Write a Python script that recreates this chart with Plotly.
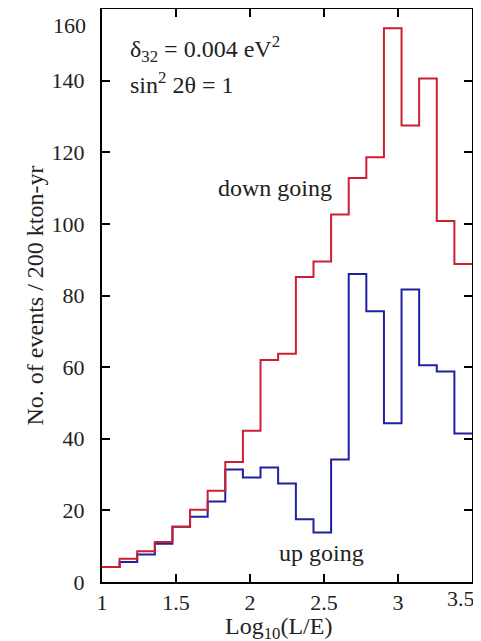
import plotly.graph_objects as go

# Bin edges of Log10(L/E) (21 bins from 1 to 3.5)
bin_edges = [1.0, 1.119, 1.238, 1.357, 1.476, 1.595, 1.714, 1.833, 1.952, 2.071,
             2.190, 2.310, 2.429, 2.548, 2.667, 2.786, 2.905, 3.024, 3.143, 3.262,
             3.381, 3.5]

down_going = [4.2, 6.5, 8.6, 11.2, 15.4, 20.2, 25.5, 33.5, 42.2, 62.0,
              63.7, 85.2, 89.5, 102.6, 112.8, 118.6, 154.6, 127.5, 140.6, 100.8, 88.8]
up_going = [4.2, 5.6, 7.7, 10.7, 15.4, 18.2, 22.5, 31.4, 29.2, 32.0,
            27.5, 17.5, 13.8, 34.2, 86.0, 75.6, 44.3, 81.7, 60.5, 58.8, 41.5]

x_ticks = [1, 1.5, 2, 2.5, 3, 3.5]
x_ticktext = ["1", "1.5", "2", "2.5", "3", ""]   # "3.5" drawn as shifted label below
y_ticks = [0, 20, 40, 60, 80, 100, 120, 140, 160]
y_ticktext = ["0", "20", "40", "60", "80", "100", "120", "140", ""]  # "160" drawn shifted below

FONT = "Liberation Serif, Times New Roman, serif"
RED = "#cc2030"
BLUE = "#2020a0"
TXT = "#222"


def step_xy(values):
    return bin_edges, list(values) + [values[-1]]


fig = go.Figure()
xb, yb = step_xy(up_going)
fig.add_trace(go.Scatter(x=xb, y=yb, mode="lines", line=dict(shape="hv", color=BLUE, width=2),
                         showlegend=False, hoverinfo="skip"))
xr, yr = step_xy(down_going)
fig.add_trace(go.Scatter(x=xr, y=yr, mode="lines", line=dict(shape="hv", color=RED, width=2),
                         showlegend=False, hoverinfo="skip"))

# page body has an 8px default margin, so the figure is sized to fit the window
fig.update_layout(
    width=473, height=633,
    margin=dict(l=94, r=9, t=1, b=59, autoexpand=False),
    paper_bgcolor="white", plot_bgcolor="white",
    font=dict(family=FONT, size=22, color=TXT),
    xaxis=dict(range=[1, 3.5], tickvals=x_ticks, ticktext=x_ticktext, automargin=False,
               ticks="inside", ticklen=8, tickwidth=2, tickcolor="black",
               showline=True, linecolor="black", linewidth=2, mirror="allticks",
               showgrid=False, zeroline=False, ticklabelstandoff=0),
    yaxis=dict(range=[0, 160], tickvals=y_ticks, ticktext=y_ticktext, automargin=False,
               ticks="inside", ticklen=8, tickwidth=2, tickcolor="black",
               showline=True, linecolor="black", linewidth=2, mirror="allticks",
               showgrid=False, zeroline=False, ticklabelstandoff=11,
               title=dict(text="No. of events / 200 kton-yr", standoff=1, font=dict(size=24))),
    annotations=[
        dict(text="Log<sub>10</sub>(L/E)", x=0.478, y=-0.081, xref="paper", yref="paper",
             xanchor="center", yanchor="middle", showarrow=False, font=dict(size=24)),
        dict(text="160", x=-0.038, y=0.972, xref="paper", yref="paper",
             xanchor="right", yanchor="middle", showarrow=False, font=dict(size=22)),
        dict(text="3.5", x=0.97, y=-0.028, xref="paper", yref="paper",
             xanchor="center", yanchor="middle", showarrow=False, font=dict(size=22)),
        dict(text="δ<sub>32</sub> = 0.004 eV<sup>2</sup>", x=0.07, y=0.93, xref="paper", yref="paper",
             xanchor="left", yanchor="middle", showarrow=False, font=dict(size=24)),
        dict(text="sin<sup>2</sup> 2θ = 1", x=0.07, y=0.87, xref="paper", yref="paper",
             xanchor="left", yanchor="middle", showarrow=False, font=dict(size=24)),
        dict(text="down going", x=2.17, y=110, xref="x", yref="y",
             xanchor="center", yanchor="middle", showarrow=False, font=dict(size=24)),
        dict(text="up going", x=2.486, y=8, xref="x", yref="y",
             xanchor="center", yanchor="middle", showarrow=False, font=dict(size=24)),
    ],
)

fig.write_html("out.html")
